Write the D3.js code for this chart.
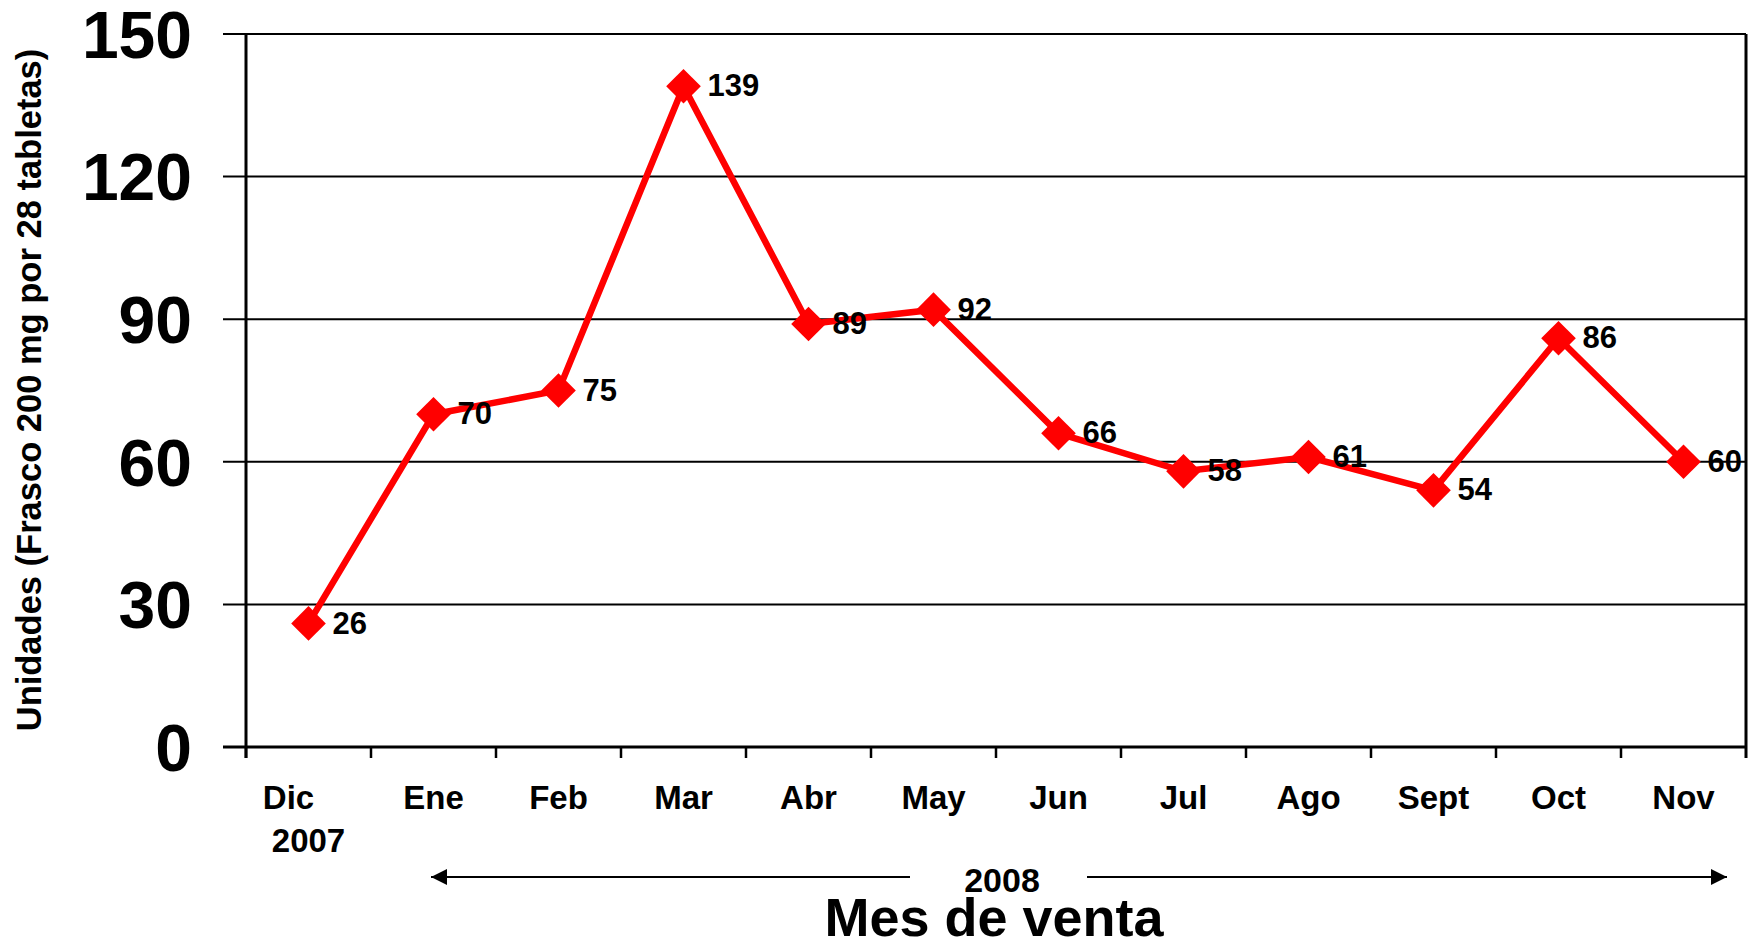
<!DOCTYPE html>
<html>
<head>
<meta charset="utf-8">
<script src="https://cdn.jsdelivr.net/npm/d3@7"></script>
<style>
  body { margin: 0; background: #fff; }
  svg { display: block; font-family: "Liberation Sans", Arial, sans-serif; font-weight: bold; }
</style>
</head>
<body>
<svg id="chart"></svg>
<script>
const months = ["Dic", "Ene", "Feb", "Mar", "Abr", "May", "Jun", "Jul", "Ago", "Sept", "Oct", "Nov"];
const units = [26, 70, 75, 139, 89, 92, 66, 58, 61, 54, 86, 60];
const yTicks = [0, 30, 60, 90, 120, 150];

const width = 1757;
const height = 944;
const marginTop = 34;
const marginRight = 11;
const marginBottom = 197;
const marginLeft = 246;

const svg = d3.select("#chart")
  .attr("width", width)
  .attr("height", height)
  .attr("viewBox", [0, 0, width, height]);

// Scales
const x = d3.scaleBand()
  .domain(months)
  .range([marginLeft, width - marginRight]);

const y = d3.scaleLinear()
  .domain([0, 150])
  .range([height - marginBottom, marginTop]);

const cx = d => x(d) + x.bandwidth() / 2;

// Horizontal gridlines, extending left as ticks
svg.append("g")
  .selectAll("line")
  .data(yTicks)
  .join("line")
  .attr("x1", marginLeft - 23)
  .attr("x2", width - marginRight)
  .attr("y1", d => y(d))
  .attr("y2", d => y(d))
  .attr("stroke", "#000")
  .attr("stroke-width", d => d === 0 ? 3 : 2);

// Y axis labels
svg.append("g")
  .selectAll("text")
  .data(yTicks)
  .join("text")
  .attr("x", 192)
  .attr("y", d => y(d))
  .attr("dy", "0.36em")
  .attr("text-anchor", "end")
  .attr("font-size", 66)
  .text(d => d);

// Left and right border lines
svg.append("line")
  .attr("x1", marginLeft).attr("x2", marginLeft)
  .attr("y1", y(150)).attr("y2", y(0) + 11)
  .attr("stroke", "#000").attr("stroke-width", 3);

svg.append("line")
  .attr("x1", width - marginRight).attr("x2", width - marginRight)
  .attr("y1", y(150)).attr("y2", y(0) + 11)
  .attr("stroke", "#000").attr("stroke-width", 3);

// X ticks at band edges
svg.append("g")
  .selectAll("line")
  .data(months)
  .join("line")
  .attr("x1", d => x(d))
  .attr("x2", d => x(d))
  .attr("y1", y(0))
  .attr("y2", y(0) + 11)
  .attr("stroke", "#000")
  .attr("stroke-width", 2.5);

// X labels
svg.append("g")
  .selectAll("text")
  .data(months)
  .join("text")
  .attr("x", d => cx(d))
  .attr("dx", d => d === "Dic" ? -20 : 0)
  .attr("y", 809)
  .attr("text-anchor", "middle")
  .attr("font-size", 33)
  .text(d => d);

svg.append("text")
  .attr("x", cx("Dic"))
  .attr("y", 852)
  .attr("text-anchor", "middle")
  .attr("font-size", 33)
  .text("2007");

// Line
const line = d3.line()
  .x((d, i) => cx(months[i]))
  .y(d => y(d));

svg.append("path")
  .datum(units)
  .attr("fill", "none")
  .attr("stroke", "#ff0000")
  .attr("stroke-width", 6.5)
  .attr("stroke-linejoin", "miter")
  .attr("d", line);

// Diamond markers
const diamond = d3.symbol().type(d3.symbolSquare).size(600);

svg.append("g")
  .selectAll("path")
  .data(units)
  .join("path")
  .attr("d", diamond)
  .attr("transform", (d, i) => `translate(${cx(months[i])},${y(d)}) rotate(45)`)
  .attr("fill", "#ff0000");

// Data labels
svg.append("g")
  .selectAll("text")
  .data(units)
  .join("text")
  .attr("x", (d, i) => cx(months[i]) + 24)
  .attr("y", d => y(d) - 1)
  .attr("dy", "0.36em")
  .attr("font-size", 31)
  .attr("fill", "#000")
  .text(d => d);

// Y axis title
svg.append("text")
  .attr("transform", `translate(41,390) rotate(-90)`)
  .attr("text-anchor", "middle")
  .attr("font-size", 34.5)
  .text("Unidades (Frasco 200 mg por 28 tabletas)");

// 2008 arrows
const defs = svg.append("defs");
defs.append("marker")
  .attr("id", "arrow")
  .attr("viewBox", "0 0 10 10")
  .attr("refX", 10).attr("refY", 5)
  .attr("markerWidth", 16).attr("markerHeight", 16)
  .attr("markerUnits", "userSpaceOnUse")
  .attr("orient", "auto")
  .append("path")
  .attr("d", "M0,0L10,5L0,10Z")
  .attr("fill", "#000");

svg.append("line")
  .attr("x1", 910).attr("x2", 431)
  .attr("y1", 877).attr("y2", 877)
  .attr("stroke", "#000").attr("stroke-width", 2)
  .attr("marker-end", "url(#arrow)");

svg.append("line")
  .attr("x1", 1087).attr("x2", 1727)
  .attr("y1", 877).attr("y2", 877)
  .attr("stroke", "#000").attr("stroke-width", 2)
  .attr("marker-end", "url(#arrow)");

svg.append("text")
  .attr("x", 1002)
  .attr("y", 892)
  .attr("text-anchor", "middle")
  .attr("font-size", 34)
  .text("2008");

// X axis title
svg.append("text")
  .attr("x", 994)
  .attr("y", 936)
  .attr("text-anchor", "middle")
  .attr("font-size", 54)
  .text("Mes de venta");
</script>
</body>
</html>
